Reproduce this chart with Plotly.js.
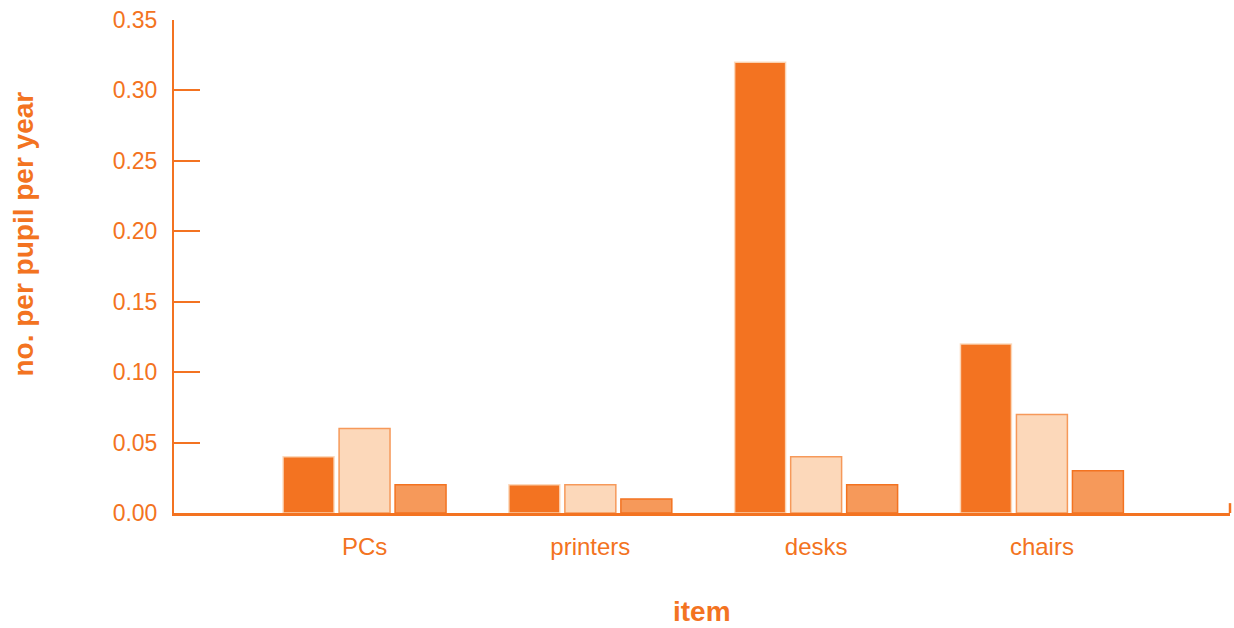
<!DOCTYPE html>
<html>
<head>
<meta charset="utf-8">
<script src="https://cdn.plot.ly/plotly-3.0.1.min.js"></script>
<style>html,body{margin:0;padding:0;background:#fff;}#chart{width:1234px;height:628px;}</style>
</head>
<body>
<div id="chart"></div>
<script>
const categories = ["PCs", "printers", "desks", "chairs"];
const seriesNames = ["series 1", "series 2", "series 3"];
const series1 = [0.04, 0.02, 0.32, 0.12];
const series2 = [0.06, 0.02, 0.04, 0.07];
const series3 = [0.02, 0.01, 0.02, 0.03];
const yTicks = [0, 0.05, 0.10, 0.15, 0.20, 0.25, 0.30, 0.35];
const xTitle = "item";
const yTitle = "no. per pupil per year";

const ORANGE = "#F37321";
const fills = [ORANGE, "#FCD8BA", "#F6995A"];
const lines = ["rgba(252,216,186,0.9)", "#F6995A", ORANGE];
const values = [series1, series2, series3];

const traces = values.map((v, i) => ({
  type: "bar",
  x: categories,
  y: v,
  name: seriesNames[i],
  marker: {color: fills[i], line: {color: lines[i], width: 1.5}},
  hoverinfo: "x+y"
}));

const FAM = "Liberation Sans, Arial, sans-serif";
const tickFont = {family: FAM, color: ORANGE, size: 23};
const titleFont = {family: FAM, color: ORANGE, size: 28, weight: "bold"};

const layout = {
  width: 1234, height: 628,
  margin: {l: 174, r: 4, t: 20, b: 115},
  paper_bgcolor: "#fff", plot_bgcolor: "#fff",
  showlegend: false,
  barmode: "group",
  bargap: 0.256,
  bargroupgap: 0.09,
  font: tickFont,
  xaxis: {
    type: "category",
    range: [-0.844, 3.833],
    showgrid: false, zeroline: false,
    showline: true, linecolor: ORANGE, linewidth: 2.5,
    ticks: "", ticklabelstandoff: 11,
    tickfont: {family: FAM, color: ORANGE, size: 24},
    automargin: false
  },
  yaxis: {
    range: [0, 0.35],
    tickvals: yTicks,
    tickformat: ".2f",
    showgrid: false, zeroline: false,
    showline: true, linecolor: ORANGE, linewidth: 2,
    ticks: "inside", ticklen: 26, tickwidth: 2, tickcolor: ORANGE,
    ticklabelstandoff: 10,
    tickfont: tickFont,
    automargin: false
  },
  annotations: [
    {text: xTitle, xref: "paper", yref: "paper", x: 0.5, y: -0.2, yshift: 0,
     xanchor: "center", yanchor: "middle", showarrow: false, font: titleFont},
    {text: yTitle, xref: "paper", yref: "paper", x: 0, xshift: -151, y: 0.5, yshift: 32,
     xanchor: "center", yanchor: "middle", textangle: -90, showarrow: false, font: titleFont}
  ],
  shapes: [{
    type: "line", xref: "paper", yref: "paper",
    x0: 1, x1: 1, y0: 0, y1: 0.02,
    line: {color: ORANGE, width: 2.5}
  }]
};

Plotly.newPlot("chart", traces, layout, {displayModeBar: false, staticPlot: true});
</script>
</body>
</html>
